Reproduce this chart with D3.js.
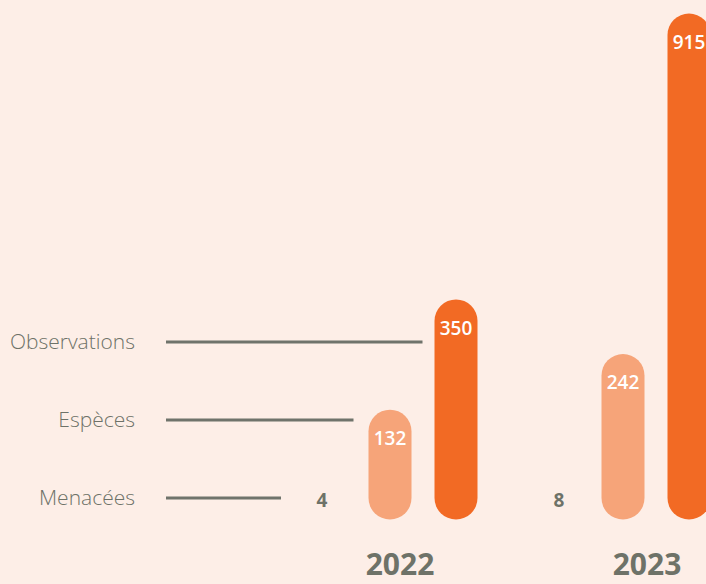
<!DOCTYPE html>
<html>
<head>
<meta charset="utf-8">
<script src="https://cdn.jsdelivr.net/npm/d3@7"></script>
<style>
  html, body { margin: 0; padding: 0; background: #fdeee7; }
  svg { display: block; font-family: "Open Sans", sans-serif; }
</style>
</head>
<body>
<div id="chart"></div>
<script>
// Données
const years = ["2022", "2023"];
const series = ["Menacées", "Espèces", "Observations"];
const menacees = [4, 8];
const especes = [132, 242];
const observations = [350, 915];

const width = 706, height = 584;
const barWidth = 43;
const gray = "#6e7268";
const colors = {"Espèces": "#f6a479", "Observations": "#f26a24"};

const svg = d3.select("#chart").append("svg")
    .attr("width", width)
    .attr("height", height);

// Échelles
const x0 = d3.scalePoint().domain(years).range([390, 623]);
const x1 = d3.scalePoint().domain(series).range([-66, 66]);
const yearX = d3.scalePoint().domain(years).range([400, 647]);
const y = d3.scaleLinear().domain([0, 915]).range([498, 35]);
const rowY = d3.scalePoint().domain(series).range([498, 342]);

const values = {"Menacées": menacees, "Espèces": especes, "Observations": observations};

// Libellés + lignes de gauche
const labelX = 135, lineStart = 166;
const lineEnd = {
    "Menacées": x0("2022") + x1("Menacées") - 43,
    "Espèces": x0("2022") + x1("Espèces") - barWidth / 2 - 15,
    "Observations": x0("2022") + x1("Observations") - barWidth / 2 - 12
};

series.forEach(s => {
    svg.append("text")
        .attr("x", labelX)
        .attr("y", rowY(s))
        .attr("dy", "0.35em")
        .attr("text-anchor", "end")
        .style("font-size", "21px")
        .style("font-weight", 300)
        .style("fill", gray)
        .text(s);

    svg.append("line")
        .attr("x1", lineStart)
        .attr("x2", lineEnd[s])
        .attr("y1", rowY(s))
        .attr("y2", rowY(s))
        .attr("stroke", "#6f736b")
        .attr("stroke-width", 3);
});

// Barres
years.forEach((yr, i) => {
    // Menacées : juste le chiffre
    svg.append("text")
        .attr("x", x0(yr) + x1("Menacées") - 2 * (1 - 2 * i))
        .attr("y", rowY("Menacées"))
        .attr("dy", "0.45em")
        .attr("text-anchor", "middle")
        .style("font-size", "19px")
        .style("font-weight", 700)
        .style("fill", gray)
        .text(menacees[i]);

    ["Espèces", "Observations"].forEach(s => {
        const v = values[s][i];
        const cx = x0(yr) + x1(s);
        svg.append("rect")
            .attr("x", cx - barWidth / 2)
            .attr("y", y(v) - barWidth / 2)
            .attr("width", barWidth)
            .attr("height", y(0) - y(v) + barWidth)
            .attr("rx", barWidth / 2)
            .attr("fill", colors[s]);

        svg.append("text")
            .attr("x", cx)
            .attr("y", y(v) + 7)
            .attr("dy", "0.36em")
            .attr("text-anchor", "middle")
            .style("font-size", "19px")
            .style("font-weight", 600)
            .style("fill", "#fff")
            .text(v);
    });

    // Année
    svg.append("text")
        .attr("x", yearX(yr))
        .attr("y", 575)
        .attr("text-anchor", "middle")
        .style("font-size", "30px")
        .style("font-weight", 700)
        .style("fill", gray)
        .text(yr);
});
</script>
</body>
</html>
